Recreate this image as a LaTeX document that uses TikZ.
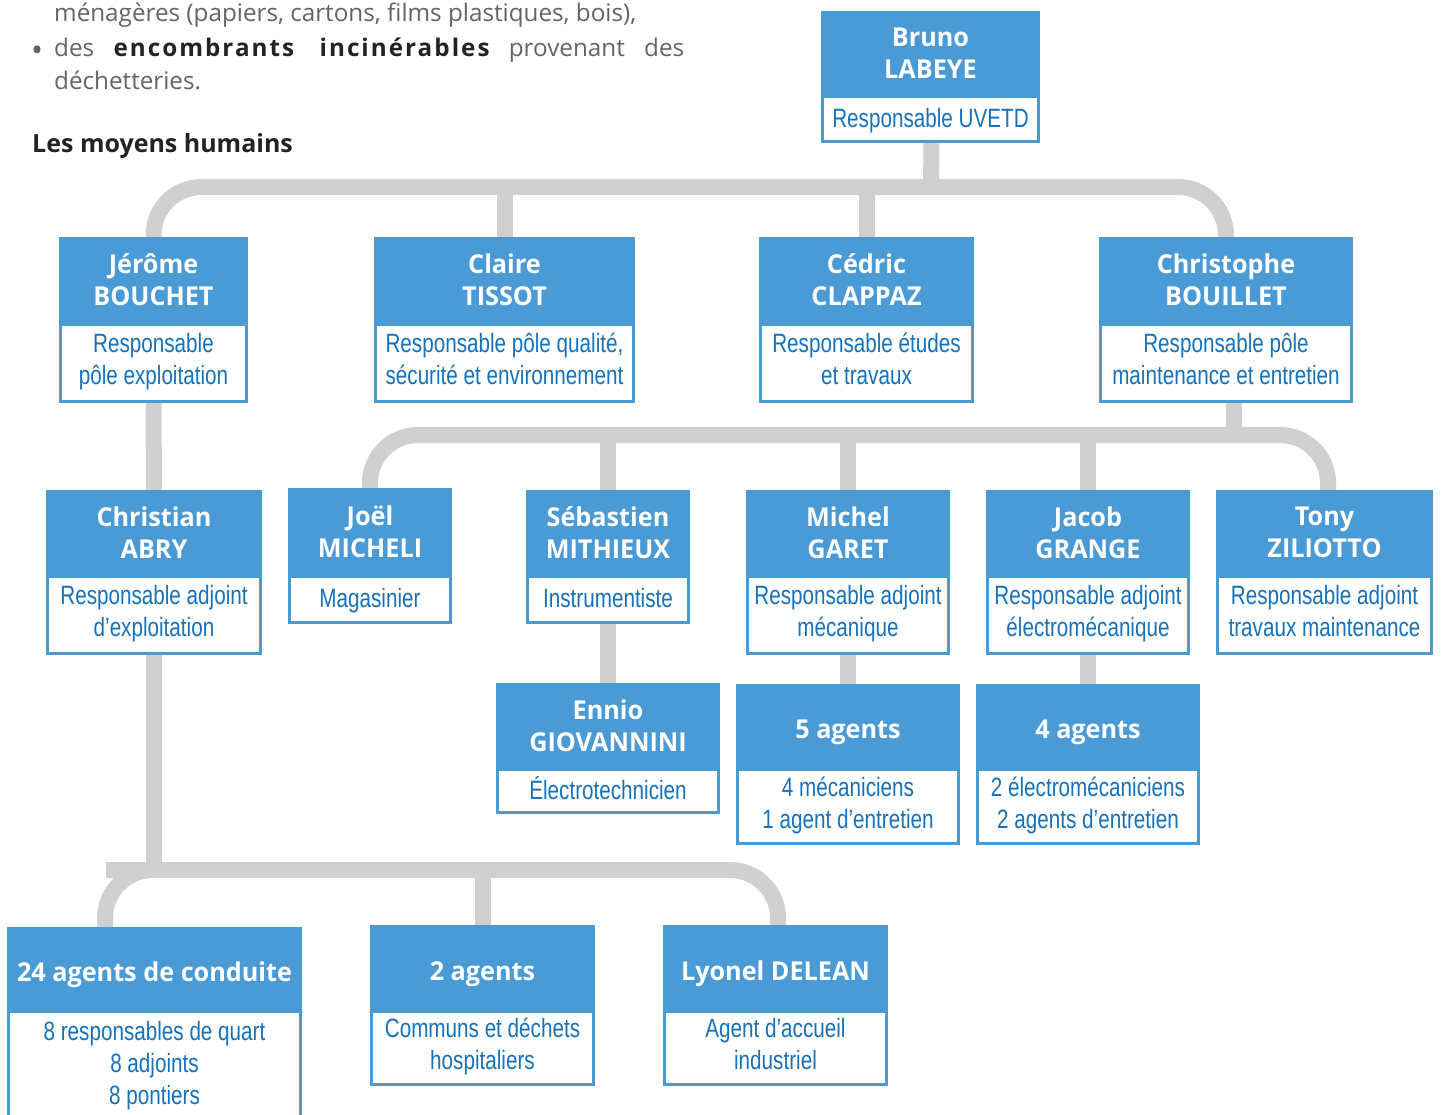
\documentclass[tikz,border=0pt]{standalone}
\usepackage{fontspec}
\setmainfont{Open Sans}
\newfontfamily\headfont[FakeStretch=0.97]{Open Sans}
\newfontfamily\rolefont[FakeStretch=0.78]{Liberation Sans}
\usetikzlibrary{positioning}
\definecolor{boxblue}{RGB}{74,154,213}
\definecolor{roleblue}{RGB}{22,114,187}
\definecolor{linkgray}{RGB}{208,208,208}
\definecolor{introgray}{RGB}{100,100,100}
\definecolor{titlegray}{RGB}{35,35,35}
\begin{document}
\begin{tikzpicture}[x=1pt,y=-1pt,
    head/.style={fill=boxblue, text=white, align=center, inner sep=0pt,
      font=\headfont\fontsize{26}{32}\selectfont\bfseries},
    head1/.style={head, text height=25pt, text depth=0pt},
    role/.style={fill=white, draw=boxblue, line width=3pt, text=roleblue,
      align=center, inner sep=0pt, font=\rolefont\fontsize{26.5}{32}\selectfont,
      execute at begin node={\rule{0pt}{24pt}},
      execute at end node={\rule[-8pt]{0pt}{0pt}}},
    link/.style={draw=linkgray, line width=16pt},
    intro/.style={anchor=base west, inner sep=0pt, text=introgray,
      font=\fontsize{24.25}{33}\selectfont}]
  \clip (0,0) rectangle (1442,1115);

  % text above the chart
  \node[intro] (intro1) at (54,22) {ménagères (papiers, cartons, films plastiques, bois),};
  \node[intro, font=\fontsize{32}{33}\selectfont] (bullet) at (31,62) {•};
  \node[intro] (intro2) at (54,57) {\makebox[630pt][s]{des {\addfontfeature{LetterSpace=8.3}\color{titlegray}\bfseries encombrants incinérables} provenant des}};
  \node[intro] (intro3) at (54,90) {déchetteries.};
  \node[intro, text=titlegray, font=\fontsize{25}{30}\selectfont\bfseries] (title) at (32,153) {Les moyens humains};

  % level 0
  \node[head, minimum width=219, minimum height=84] (bruno) at (930.5,53) {Bruno\\LABEYE};
  \node[role, minimum width=216, minimum height=45, below=0pt of bruno] (brunoR) {Responsable UVETD};

  % level 1
  \node[head, minimum width=189, minimum height=86] (jerome) at (153.5,280) {Jérôme\\BOUCHET};
  \node[role, minimum width=186, minimum height=77, below=0pt of jerome] (jeromeR) {Responsable\\pôle exploitation};

  \node[head, minimum width=261, minimum height=86] (claire) at (504.5,280) {Claire\\TISSOT};
  \node[role, minimum width=258, minimum height=77, below=0pt of claire] (claireR) {Responsable pôle qualité,\\sécurité et environnement};

  \node[head, minimum width=215, minimum height=86] (cedric) at (866.5,280) {Cédric\\CLAPPAZ};
  \node[role, minimum width=212, minimum height=77, below=0pt of cedric] (cedricR) {Responsable études\\et travaux};

  \node[head, minimum width=254, minimum height=86] (christophe) at (1226,280) {Christophe\\BOUILLET};
  \node[role, minimum width=251, minimum height=77, below=0pt of christophe] (christopheR) {Responsable pôle\\maintenance et entretien};

  % level 2
  \node[head, minimum width=216, minimum height=85] (christian) at (154,532.5) {Christian\\ABRY};
  \node[role, minimum width=213, minimum height=77, below=0pt of christian] (christianR) {Responsable adjoint\\d’exploitation};

  \node[head, minimum width=164, minimum height=87] (joel) at (370,531.5) {Joël\\MICHELI};
  \node[role, minimum width=161, minimum height=46, below=0pt of joel] (joelR) {Magasinier};

  \node[head, minimum width=164, minimum height=85] (sebastien) at (608,532.5) {Sébastien\\MITHIEUX};
  \node[role, minimum width=161, minimum height=46, below=0pt of sebastien] (sebastienR) {Instrumentiste};

  \node[head, minimum width=204, minimum height=85] (michel) at (848,532.5) {Michel\\GARET};
  \node[role, minimum width=201, minimum height=77, below=0pt of michel] (michelR) {Responsable adjoint\\mécanique};

  \node[head, minimum width=204, minimum height=85] (jacob) at (1088,532.5) {Jacob\\GRANGE};
  \node[role, minimum width=201, minimum height=77, below=0pt of jacob] (jacobR) {Responsable adjoint\\électromécanique};

  \node[head, minimum width=217, minimum height=85] (tony) at (1324.5,532.5) {Tony\\ZILIOTTO};
  \node[role, minimum width=214, minimum height=77, below=0pt of tony] (tonyR) {Responsable adjoint\\travaux maintenance};

  % level 3
  \node[head, minimum width=224, minimum height=85] (ennio) at (608,725.5) {Ennio\\GIOVANNINI};
  \node[role, minimum width=221, minimum height=43, below=0pt of ennio] (ennioR) {Électrotechnicien};

  \node[head1, minimum width=224, minimum height=84] (mecano) at (848,726) {5 agents};
  \node[role, minimum width=221, minimum height=74, below=0pt of mecano] (mecanoR) {4 mécaniciens\\1 agent d’entretien};

  \node[head1, minimum width=224, minimum height=84] (electro) at (1088,726) {4 agents};
  \node[role, minimum width=221, minimum height=74, below=0pt of electro] (electroR) {2 électromécaniciens\\2 agents d’entretien};

  % level 4
  \node[head1, minimum width=295, minimum height=83] (conduite) at (154.5,968.5) {24 agents de conduite};
  \node[role, minimum width=292, minimum height=110, below=0pt of conduite] (conduiteR) {8 responsables de quart\\8 adjoints\\8 pontiers};

  \node[head1, minimum width=225, minimum height=85] (communs) at (482.5,967.5) {2 agents};
  \node[role, minimum width=222, minimum height=73, below=0pt of communs] (communsR) {Communs et déchets\\hospitaliers};

  \node[head1, minimum width=225, minimum height=85] (lyonel) at (775.5,967.5) {Lyonel DELEAN};
  \node[role, minimum width=222, minimum height=73, below=0pt of lyonel] (lyonelR) {Agent d’accueil\\industriel};

  % connectors
  \coordinate (bar1) at (931,187);
  \coordinate (bar2) at (1234,435);
  \coordinate (bar3) at (154,870);

  \draw[link, rounded corners=48] (jerome.north) |- (bar1) -| (christophe.north);
  \draw[link] ([xshift=1]brunoR.south) -- (bar1);
  \draw[link] (claire.north) -- (claire.north |- bar1);
  \draw[link] (cedric.north) -- (cedric.north |- bar1);

  \draw[link] (jeromeR.south) -- (christian.north);

  \draw[link, rounded corners=48] (joel.north) |- (bar2) -| ([xshift=3.5]tony.north);
  \draw[link] ([xshift=8]christopheR.south) -- (bar2);
  \draw[link] (sebastien.north) -- (sebastien.north |- bar2);
  \draw[link] (michel.north) -- (michel.north |- bar2);
  \draw[link] (jacob.north) -- (jacob.north |- bar2);

  \draw[link] (sebastienR.south) -- (ennio.north);
  \draw[link] (michelR.south) -- (mecano.north);
  \draw[link] (jacobR.south) -- (electro.north);

  \draw[link, rounded corners=48] ([xshift=-49.5]conduite.north) |- (bar3) -| ([xshift=2.5]lyonel.north);
  \draw[link] (christianR.south) -- (bar3);
  \draw[link] (communs.north) -- (communs.north |- bar3);
\end{tikzpicture}
\end{document}
